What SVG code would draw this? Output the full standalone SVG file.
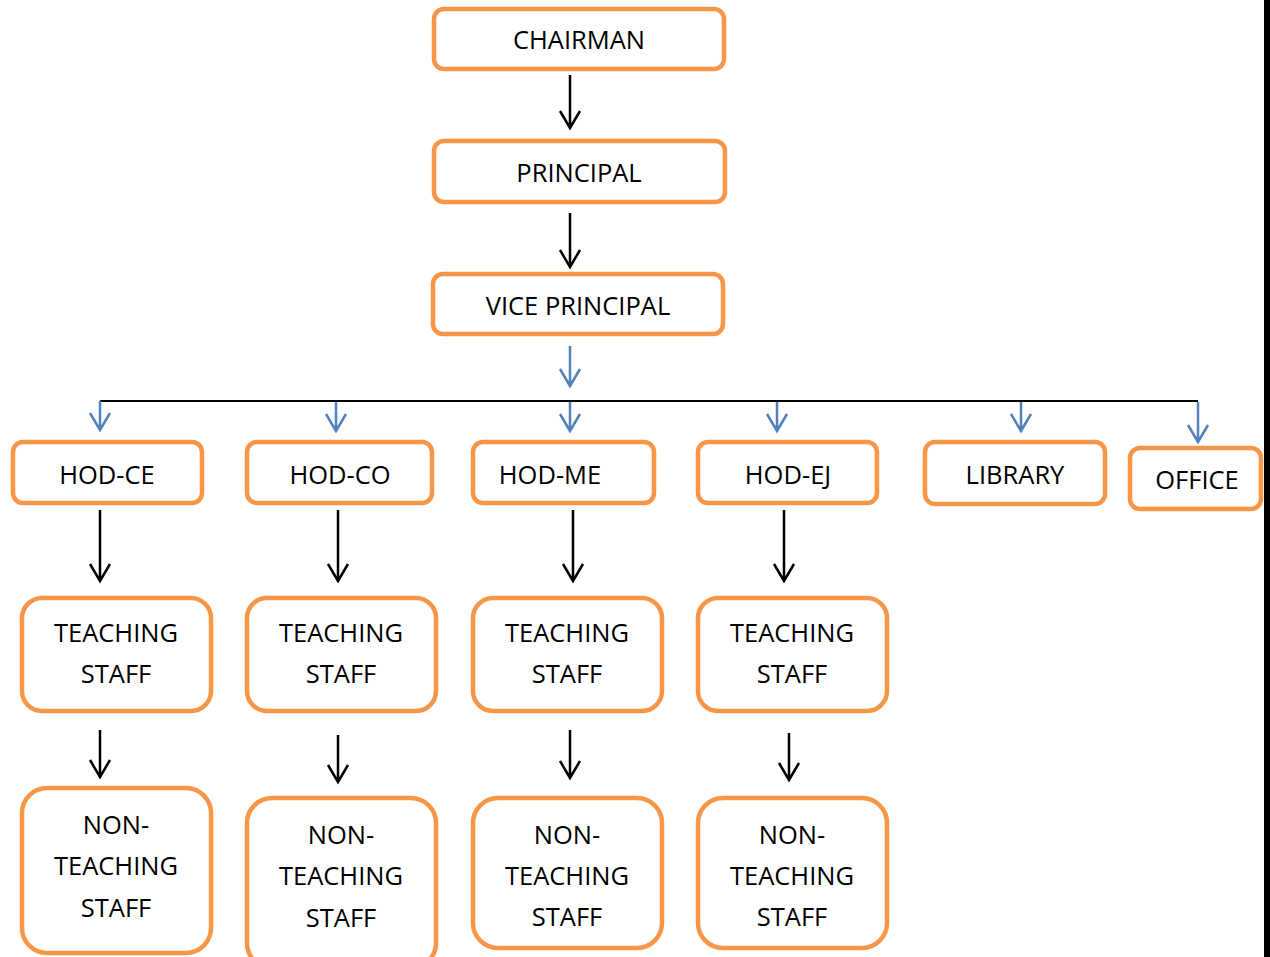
<svg xmlns="http://www.w3.org/2000/svg" width="1270" height="957" viewBox="0 0 1270 957">
<style>
.box{fill:#fff;stroke:#F79646;stroke-width:4.5}
.t{font-family:"Open Sans","Noto Sans",sans-serif;font-size:25.5px;fill:#000;text-anchor:middle}
.k{stroke:#000;stroke-width:2.5;fill:none}
.b{stroke:#4F81BD;stroke-width:2.5;fill:none}
.h{stroke:#000;stroke-width:2;fill:none}
</style>
<rect x="0" y="0" width="1270" height="957" fill="#fff"/>
<g id="chairman"><rect class="box" x="434" y="9" width="290" height="60" rx="10"/><text class="t" x="579" y="49">CHAIRMAN</text></g>
<g id="principal"><rect class="box" x="434" y="141" width="291" height="61" rx="10"/><text class="t" x="579" y="182">PRINCIPAL</text></g>
<g id="vice-principal"><rect class="box" x="433" y="274" width="290" height="60" rx="10"/><text class="t" x="578" y="315">VICE PRINCIPAL</text></g>
<g id="hod-ce"><rect class="box" x="13" y="442" width="189" height="61" rx="10"/><text class="t" x="107" y="484">HOD-CE</text></g>
<g id="hod-co"><rect class="box" x="247" y="442" width="185" height="61" rx="10"/><text class="t" x="340" y="484">HOD-CO</text></g>
<g id="hod-me"><rect class="box" x="473" y="442" width="181" height="61" rx="10"/><text class="t" x="550" y="484">HOD-ME</text></g>
<g id="hod-ej"><rect class="box" x="698" y="442" width="179" height="61" rx="10"/><text class="t" x="788" y="484">HOD-EJ</text></g>
<g id="library"><rect class="box" x="925" y="442" width="180" height="62" rx="10"/><text class="t" x="1015" y="484">LIBRARY</text></g>
<g id="office"><rect class="box" x="1130" y="448" width="131" height="61" rx="10"/><text class="t" x="1197" y="489">OFFICE</text></g>
<g id="ts-ce"><rect class="box" x="22" y="598" width="189" height="113" rx="20"/><text class="t" x="116" y="642">TEACHING</text><text class="t" x="116" y="683">STAFF</text></g>
<g id="ts-co"><rect class="box" x="247" y="598" width="189" height="113" rx="20"/><text class="t" x="341" y="642">TEACHING</text><text class="t" x="341" y="683">STAFF</text></g>
<g id="ts-me"><rect class="box" x="473" y="598" width="189" height="113" rx="20"/><text class="t" x="567" y="642">TEACHING</text><text class="t" x="567" y="683">STAFF</text></g>
<g id="ts-ej"><rect class="box" x="698" y="598" width="189" height="113" rx="20"/><text class="t" x="792" y="642">TEACHING</text><text class="t" x="792" y="683">STAFF</text></g>
<g id="nts-ce"><rect class="box" x="22" y="788" width="189" height="165" rx="25"/><text class="t" x="116" y="834">NON-</text><text class="t" x="116" y="875">TEACHING</text><text class="t" x="116" y="917">STAFF</text></g>
<g id="nts-co"><rect class="box" x="247" y="798" width="189" height="170" rx="25"/><text class="t" x="341" y="844">NON-</text><text class="t" x="341" y="885">TEACHING</text><text class="t" x="341" y="927">STAFF</text></g>
<g id="nts-me"><rect class="box" x="473" y="798" width="189" height="150" rx="25"/><text class="t" x="567" y="844">NON-</text><text class="t" x="567" y="885">TEACHING</text><text class="t" x="567" y="926">STAFF</text></g>
<g id="nts-ej"><rect class="box" x="698" y="798" width="189" height="150" rx="25"/><text class="t" x="792" y="844">NON-</text><text class="t" x="792" y="885">TEACHING</text><text class="t" x="792" y="926">STAFF</text></g>
<g id="connectors">
<path class="k" d="M570 75V128M560 111L570 128L580 111"/>
<path class="k" d="M570 213V267M560 250L570 267L580 250"/>
<path class="b" d="M570 346V386M560 369L570 386L580 369"/>
<path class="h" d="M100 401H1198"/>
<path class="b" d="M100 401V430M90 413L100 430L110 413"/>
<path class="b" d="M336 402V431M326 414L336 431L346 414"/>
<path class="b" d="M570 402V431M560 414L570 431L580 414"/>
<path class="b" d="M777 402V431M767 414L777 431L787 414"/>
<path class="b" d="M1021 402V431M1011 414L1021 431L1031 414"/>
<path class="b" d="M1198 402V442M1188 425L1198 442L1208 425"/>
<path class="k" d="M100 510V581M90 564L100 581L110 564"/>
<path class="k" d="M338 510V581M328 564L338 581L348 564"/>
<path class="k" d="M573 510V581M563 564L573 581L583 564"/>
<path class="k" d="M784 510V581M774 564L784 581L794 564"/>
<path class="k" d="M100 730V777M90 760L100 777L110 760"/>
<path class="k" d="M338 735V782M328 765L338 782L348 765"/>
<path class="k" d="M570 730V778M560 761L570 778L580 761"/>
<path class="k" d="M789 733V780M779 763L789 780L799 763"/>
</g>
<rect x="1264" y="0" width="6" height="957" fill="#000"/>
</svg>
